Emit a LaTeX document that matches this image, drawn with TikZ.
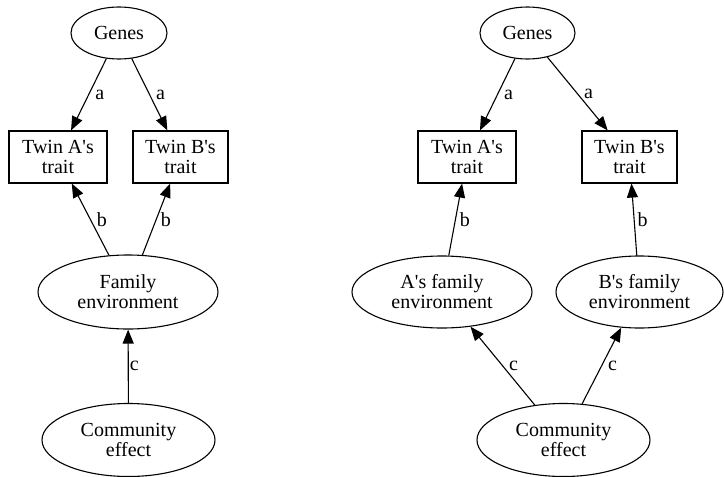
\documentclass[tikz,border=0pt]{standalone}
\usepackage{fontspec}
\newfontfamily\timesfont{Liberation Serif}
\usetikzlibrary{arrows.meta,shapes.geometric}

\begin{document}
\begin{tikzpicture}[x=1pt,y=-1pt,>={Triangle[length=14pt,width=11pt]},line width=1.1pt,
font=\timesfont\fontsize{20}{20}\selectfont,
var/.style={ellipse, draw, line width=1.1pt, align=center, inner sep=0pt},
trait/.style={rectangle, draw, line width=1.1pt, align=center, inner sep=0pt, minimum height=52pt},
lbl/.style={anchor=west, inner sep=1pt, xshift=5pt}]
\useasboundingbox (0,0) rectangle (724,477);

% one shared family environment
\draw (119,33) node[var, minimum width=96pt, minimum height=52pt] (G1) {Genes};
\draw (58,157) node[trait, minimum width=98pt] (A1) {Twin A's\\trait};
\draw (180.5,157) node[trait, minimum width=95pt] (B1) {Twin B's\\trait};
\draw (128,292) node[var, minimum width=180pt, minimum height=74pt] (F1) {Family\\environment};
\draw (128.5,440) node[var, minimum width=173pt, minimum height=73pt] (C1) {Community\\effect};

\draw[->] (G1)--(A1) node[lbl,midway] {a};
\draw[->] (G1)--(B1) node[lbl,midway] {a};
\draw[->] (F1)--(A1) node[lbl,midway] {b};
\draw[->] (F1)--(B1) node[lbl,midway,xshift=-2pt] {b};
\draw[->] (C1)--(F1) node[lbl,midway,xshift=-5pt] {c};

% separate family environments
\draw (527.5,33) node[var, minimum width=95pt, minimum height=52pt] (G2) {Genes};
\draw (467,157) node[trait, minimum width=98pt] (A2) {Twin A's\\trait};
\draw (629.5,157) node[trait, minimum width=95pt] (B2) {Twin B's\\trait};
\draw (442,292) node[var, minimum width=180pt, minimum height=72pt] (FA) {A's family\\environment};
\draw (639.5,292) node[var, minimum width=167pt, minimum height=72pt] (FB) {B's family\\environment};
\draw (563.5,440) node[var, minimum width=173pt, minimum height=73pt] (C2) {Community\\effect};

\draw[->] (G2)--(A2) node[lbl,midway] {a};
\draw[->] (G2)--(B2) node[lbl,midway] {a};
\draw[->] (FA)--(A2) node[lbl,midway,xshift=-2pt] {b};
\draw[->] (FB)--(B2) node[lbl,midway,xshift=-3pt] {b};
\draw[->] (C2)--(FA) node[lbl,midway] {c};
\draw[->] (C2)--(FB) node[lbl,midway] {c};
\end{tikzpicture}
\end{document}
